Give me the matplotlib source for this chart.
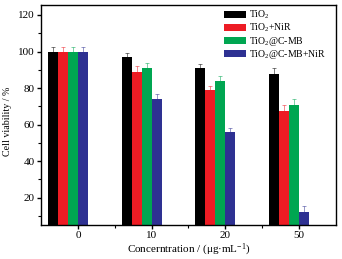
import matplotlib

matplotlib.use("Agg")
import matplotlib.pyplot as plt
import numpy as np
from matplotlib.ticker import MultipleLocator, FixedLocator

plt.rcParams["font.family"] = ["Liberation Serif", "DejaVu Serif"]
plt.rcParams["mathtext.fontset"] = "custom"
plt.rcParams["mathtext.rm"] = "Liberation Serif"
plt.rcParams["mathtext.it"] = "Liberation Serif:italic"

# --- data ---
concentrations = ["0", "10", "20", "50"]
series_names = ["TiO$_2$", "TiO$_2$+NiR", "TiO$_2$@C-MB", "TiO$_2$@C-MB+NiR"]
series_colors = ["#000000", "#ED1C24", "#00A651", "#2E3192"]
viability = [
    [99.6, 96.9, 90.7, 87.9],  # TiO2
    [99.6, 89.0, 79.0, 67.6],  # TiO2+NiR
    [99.6, 91.0, 84.1, 70.5],  # TiO2@C-MB
    [99.6, 74.0, 56.0, 12.0],  # TiO2@C-MB+NiR
]
errors = [
    [3.0, 2.4, 2.2, 3.1],
    [3.0, 3.0, 2.3, 3.3],
    [3.0, 2.8, 2.3, 3.7],
    [3.0, 3.0, 2.4, 3.7],
]

fig = plt.figure(figsize=(3.42, 2.59), dpi=100)
ax = fig.add_axes([0.12, 0.131, 0.862, 0.85])

x = np.arange(1, len(concentrations) + 1)
width = 0.136
offsets = [-2.5, -1.5, -0.5, 0.5]
for name, color, vals, errs, off in zip(series_names, series_colors, viability, errors, offsets):
    errs = np.asarray(errs)
    ax.bar(x + off * width, vals, width, color=color, label=name, linewidth=0,
           yerr=[np.zeros_like(errs), errs], ecolor=color,
           error_kw=dict(elinewidth=0.6, capsize=1.5, capthick=0.6, alpha=0.6))

ax.set_xlim(0.5, 4.5)
ax.set_ylim(5, 125.5)
ax.set_xticks(x)
ax.set_xticklabels(concentrations)
ax.xaxis.set_minor_locator(FixedLocator([1.5, 2.5, 3.5]))
ax.yaxis.set_major_locator(MultipleLocator(20))
ax.yaxis.set_minor_locator(MultipleLocator(10))
ax.set_yticks([20, 40, 60, 80, 100, 120])

for s in ax.spines.values():
    s.set_linewidth(1.0)
ax.tick_params(which="major", direction="out", length=3, width=1.0, labelsize=8, pad=1.5)
ax.tick_params(which="minor", direction="out", length=2, width=0.8)

ax.set_ylabel("Cell viability / %", fontsize=7.2)
ax.yaxis.set_label_coords(-0.097, 0.47)
ax.set_xlabel("Concerntration / (\u03bcg\u00b7mL$^{-1}$)", fontsize=8, labelpad=1)

ax.legend(loc="upper left", bbox_to_anchor=(0.6, 1.01), frameon=False, fontsize=7,
          handlelength=2.3, handleheight=0.75, handletextpad=0.3, labelspacing=0.05,
          borderaxespad=0.2)

fig.savefig("out.png", dpi=100)
